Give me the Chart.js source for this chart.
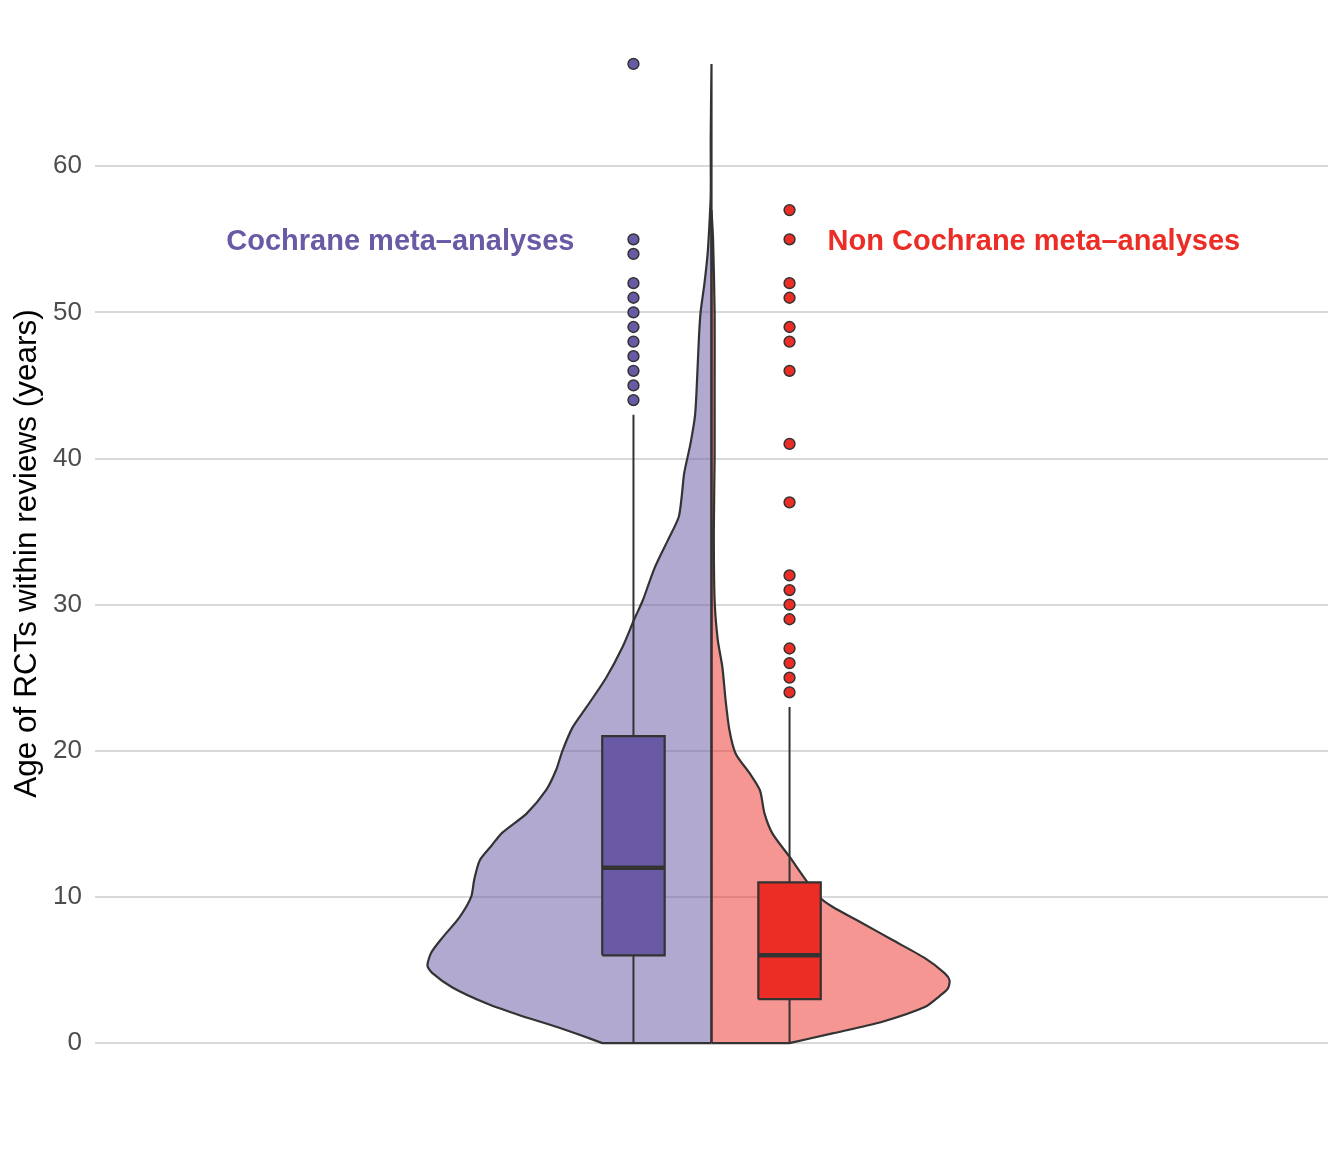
<!DOCTYPE html>
<html>
<head>
<meta charset="utf-8">
<script src="https://cdn.jsdelivr.net/npm/chart.js@4.4.1/dist/chart.umd.min.js"></script>
<style>
  html, body { margin: 0; padding: 0; background: #fff; }
  #wrap { width: 1344px; height: 1152px; }
</style>
</head>
<body>
<div id="wrap"><canvas id="chart" width="1344" height="1152"></canvas></div>
<script>
// ── Data ──
const groups = ['Cochrane meta–analyses', 'Non Cochrane meta–analyses'];
const groupPos = [-1, 1];          // box centres on the hidden x axis
const whiskerLow = [0, 0];
const q1 = [6, 3];
const median = [12, 6];
const q3 = [21, 11];
const whiskerHigh = [43, 23];

const cochraneOutliers = [44, 45, 46, 47, 48, 49, 50, 51, 52, 54, 55, 67];
const nonCochraneOutliers = [24, 25, 26, 27, 29, 30, 31, 32, 37, 41, 46, 48, 49, 51, 52, 55, 57];

// half violin density (age value -> half width)
const cochraneAge = [0, 0.6, 1.2, 1.9, 2.7, 3.8, 4.8, 5.3, 6.2, 7.2, 8.6, 10, 11.2, 12.5, 13.5, 14.4, 15.7, 17.3, 18.7, 20,
  21.6, 23, 25, 27.1, 29, 30.3, 32.5, 34.4, 36, 37.5, 39, 41, 43, 46, 48.4, 50, 52, 54, 55.7, 58, 62, 67];
const cochraneDensity = [1.40, 1.71, 2.04, 2.46, 2.88, 3.32, 3.58, 3.64, 3.59, 3.45, 3.23, 3.08, 3.04, 2.97, 2.82, 2.68, 2.37, 2.12, 1.99, 1.91,
  1.78, 1.60, 1.35, 1.14, 0.99, 0.88, 0.73, 0.56, 0.42, 0.38, 0.35, 0.27, 0.21, 0.18, 0.16, 0.14, 0.09, 0.05, 0.03, 0.01, 0.01, 0];
const nonCochraneAge = [0, 0.66, 1.46, 2.48, 3.2, 3.74, 4.3, 4.77, 5.79, 7.05, 8.3, 9.33, 10, 11.15, 12.75, 14.35, 15.7, 17.3, 18.45, 19.8,
  21.4, 23.5, 25.7, 27.6, 30.3, 35, 40, 45, 50, 55, 57];
const nonCochraneDensity = [1.00, 1.55, 2.19, 2.74, 2.92, 3.03, 3.05, 2.99, 2.74, 2.32, 1.90, 1.55, 1.38, 1.21, 1.00, 0.78, 0.68, 0.62, 0.49, 0.31,
  0.23, 0.18, 0.14, 0.08, 0.04, 0.03, 0.04, 0.04, 0.04, 0.02, 0];

const yTicks = [0, 10, 20, 30, 40, 50, 60];

// ── Style ──
const PURPLE = '#6a5aa5', RED = '#ec2d25', DARK = '#333333';
const BOX_HALF = 0.4;
const FONT = '"Liberation Sans", Arial, sans-serif';

// ── Shape builders ──
function violinPoints(ages, dens, side) {
  const pts = [{ x: 0, y: ages[0] }, { x: side * dens[0], y: ages[0] }, { x: side * dens[0], y: ages[0] }];
  for (let i = 1; i < ages.length; i++) pts.push({ x: side * dens[i], y: ages[i] });
  const top = ages[ages.length - 1];
  pts.push({ x: 0, y: top }, { x: 0, y: ages[0] }, { x: 0, y: ages[0] });
  return pts;
}

function boxPoints(i) {
  const c = groupPos[i];
  return [
    { x: c - BOX_HALF, y: q1[i] }, { x: c + BOX_HALF, y: q1[i] },
    { x: c + BOX_HALF, y: q3[i] }, { x: c - BOX_HALF, y: q3[i] },
    { x: c - BOX_HALF, y: q1[i] }
  ];
}

function lineSet(data, color, width, order) {
  return { data, borderColor: color, borderWidth: width, pointRadius: 0, fill: false, tension: 0, order, showLine: true };
}

const colors = [PURPLE, RED];
const datasets = [];

// violins
datasets.push({
  data: violinPoints(cochraneAge, cochraneDensity, -1), borderColor: DARK, borderWidth: 2.2,
  backgroundColor: 'rgba(106,90,165,0.52)', fill: 'shape', pointRadius: 0, tension: 0.25, order: 9, showLine: true
});
datasets.push({
  data: violinPoints(nonCochraneAge, nonCochraneDensity, 1), borderColor: DARK, borderWidth: 2.2,
  backgroundColor: 'rgba(236,45,37,0.5)', fill: 'shape', pointRadius: 0, tension: 0.25, order: 8, showLine: true
});

// whiskers, boxes, medians
groupPos.forEach((c, i) => {
  datasets.push(lineSet([{ x: c, y: whiskerLow[i] }, { x: c, y: q1[i] }], DARK, 2, 6));
  datasets.push(lineSet([{ x: c, y: q3[i] }, { x: c, y: whiskerHigh[i] }], DARK, 2, 6));
  datasets.push({
    data: boxPoints(i), borderColor: DARK, borderWidth: 2.2, backgroundColor: colors[i],
    fill: 'shape', pointRadius: 0, tension: 0, order: 5, showLine: true
  });
  datasets.push(lineSet([{ x: c - BOX_HALF, y: median[i] }, { x: c + BOX_HALF, y: median[i] }], DARK, 4.5, 4));
});

// outliers
[cochraneOutliers, nonCochraneOutliers].forEach((arr, i) => {
  datasets.push({
    data: arr.map(v => ({ x: groupPos[i], y: v })), showLine: false,
    pointRadius: 5.4, pointBorderWidth: 1.5, pointBackgroundColor: colors[i], pointBorderColor: DARK, order: 1
  });
});

// ── Group labels ──
const groupLabels = {
  id: 'groupLabels',
  afterDatasetsDraw(chart) {
    const { ctx, scales: { x, y } } = chart;
    ctx.save();
    ctx.font = `bold 29px ${FONT}`;
    ctx.textBaseline = 'middle';
    ctx.fillStyle = PURPLE;
    ctx.textAlign = 'right';
    ctx.fillText(groups[0], x.getPixelForValue(-1.756), y.getPixelForValue(54.8));
    ctx.fillStyle = RED;
    ctx.textAlign = 'left';
    ctx.fillText(groups[1], x.getPixelForValue(1.487), y.getPixelForValue(54.8));
    ctx.restore();
  }
};

new Chart(document.getElementById('chart'), {
  type: 'line',
  data: { datasets },
  options: {
    responsive: false, animation: false, events: [],
    layout: { padding: { top: 15, right: 16, bottom: 60, left: 0 } },
    plugins: { legend: { display: false }, tooltip: { enabled: false } },
    scales: {
      x: { type: 'linear', display: false, min: -7.9, max: 7.9 },
      y: {
        type: 'linear', min: -3.35, max: 70.35,
        afterBuildTicks: axis => { axis.ticks = yTicks.map(v => ({ value: v })); },
        afterFit: axis => { axis.width = 95; axis.paddingTop = 0; axis.paddingBottom = 0; },
        grid: { color: '#d9d9d9', lineWidth: 2, drawTicks: false },
        border: { display: false },
        ticks: { color: '#4d4d4d', font: { family: FONT, size: 26 }, padding: 13 },
        title: {
          display: true, text: 'Age of RCTs within reviews (years)', color: '#000',
          font: { family: FONT, size: 31.5, lineHeight: 1 }, padding: { top: 12, bottom: 0 }
        }
      }
    }
  },
  plugins: [groupLabels]
});
</script>
</body>
</html>
